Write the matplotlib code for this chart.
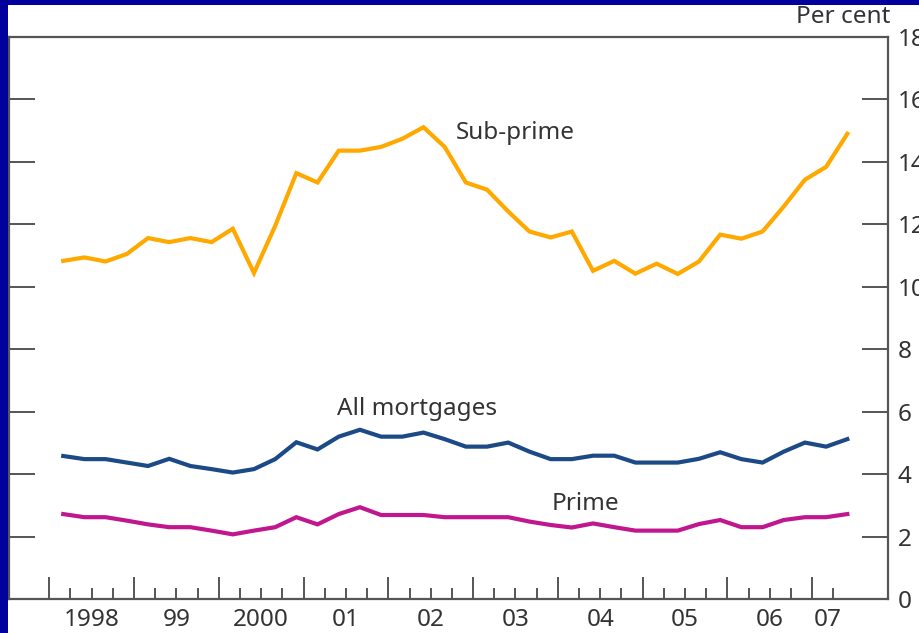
import numpy as np
import matplotlib
matplotlib.use("Agg")
import matplotlib.pyplot as plt
from matplotlib.patches import Rectangle

plt.rcParams['font.family'] = ['Noto Sans', 'DejaVu Sans']

years = [1998, 1999, 2000, 2001, 2002, 2003, 2004, 2005, 2006, 2007]
year_labels = ['1998', '99', '2000', '01', '02', '03', '04', '05', '06', '07']
n_quarters = 38  # 1998 Q1 .. 2007 Q2

sub_prime = [10.83, 10.94, 10.81, 11.05,
             11.56, 11.43, 11.56, 11.43,
             11.86, 10.44, 11.95, 13.64,
             13.34, 14.36, 14.36, 14.48,
             14.74, 15.11, 14.48, 13.34,
             13.11, 12.41, 11.77, 11.58,
             11.77, 10.51, 10.83, 10.42,
             10.74, 10.41, 10.81, 11.67,
             11.54, 11.77, 12.57, 13.43,
             13.84, 14.90]
all_mortgages = [4.58, 4.48, 4.48, 4.37,
                 4.26, 4.49, 4.26, 4.16,
                 4.05, 4.16, 4.48, 5.02,
                 4.79, 5.20, 5.42, 5.20,
                 5.20, 5.33, 5.12, 4.88,
                 4.88, 5.01, 4.72, 4.48,
                 4.48, 4.59, 4.59, 4.37,
                 4.37, 4.37, 4.49, 4.70,
                 4.48, 4.37, 4.72, 5.01,
                 4.88, 5.12]
prime = [2.72, 2.62, 2.62, 2.51,
         2.39, 2.30, 2.30, 2.19,
         2.07, 2.19, 2.30, 2.62,
         2.39, 2.72, 2.94, 2.69,
         2.69, 2.69, 2.62, 2.62,
         2.62, 2.62, 2.48, 2.37,
         2.29, 2.42, 2.30, 2.19,
         2.19, 2.19, 2.40, 2.53,
         2.30, 2.30, 2.53, 2.62,
         2.62, 2.72]

x = 1998 + 0.165 + 0.25 * np.arange(n_quarters)

W, H = 920, 633
fig = plt.figure(figsize=(W / 100, H / 100), dpi=100)
fig.patch.set_facecolor('white')

ax = fig.add_axes([9 / W, 34 / H, (888 - 9) / W, (599 - 37) / H])
ax.set_facecolor('white')

lw = 3.0
ax.plot(x, sub_prime, color='#FFA800', lw=lw, solid_joinstyle='miter')
ax.plot(x, all_mortgages, color='#1B4A86', lw=lw, solid_joinstyle='miter')
ax.plot(x, prime, color='#C0168E', lw=lw, solid_joinstyle='miter')

ax.set_xlim(1997.525, 2007.895)
ax.set_ylim(0, 18)

txtc = '#333333'
fs = 17.5
ax.text(2003.495, 14.92, 'Sub-prime', fontsize=fs, color=txtc, ha='center', va='center')
ax.text(2002.34, 6.08, 'All mortgages', fontsize=fs, color=txtc, ha='center', va='center')
ax.text(2004.33, 3.05, 'Prime', fontsize=fs, color=txtc, ha='center', va='center')

spc = '#555555'
for s in ax.spines.values():
    s.set_color(spc)
    s.set_linewidth(1.6)

# y axis: ticks inward on both sides, labels on the right
ax.set_yticks(np.arange(0, 19, 2))
ax.yaxis.set_ticks_position('both')
ax.tick_params(axis='y', direction='in', length=19, width=1.4, color=spc,
               labelleft=False, labelright=True, labelsize=fs,
               labelcolor=txtc, pad=7)

# x axis: major ticks at year starts, minor at quarters, inward
ax.set_xticks(years)
ax.set_xticklabels([])
minor = [yv + q * 0.25 for yv in years for q in (1, 2, 3) if yv + q * 0.25 <= 2007.3]
ax.set_xticks(minor, minor=True)
ax.tick_params(axis='x', which='major', direction='in', length=16, width=1.4,
               color=spc, top=False)
ax.tick_params(axis='x', which='minor', direction='in', length=8, width=1.4,
               color=spc, top=False)

label_pos = [yv + 0.5 for yv in years[:-1]] + [2007.19]
for lp, lab in zip(label_pos, year_labels):
    ax.text(lp, -0.67, lab, fontsize=fs, color=txtc, ha='center', va='center',
            transform=ax.transData, clip_on=False)

fig.text(890 / W, (H - 17) / H, 'Per cent', fontsize=fs, color=txtc,
         ha='right', va='center')

# dark blue frame (left and top)
blue = '#00009C'
fig.add_artist(Rectangle((0, 0), 8 / W, 1, transform=fig.transFigure,
                         facecolor=blue, edgecolor='none', zorder=10))
fig.add_artist(Rectangle((0, (H - 5) / H), 1, 5 / H, transform=fig.transFigure,
                         facecolor=blue, edgecolor='none', zorder=10))

fig.savefig('out.png', dpi=100)
